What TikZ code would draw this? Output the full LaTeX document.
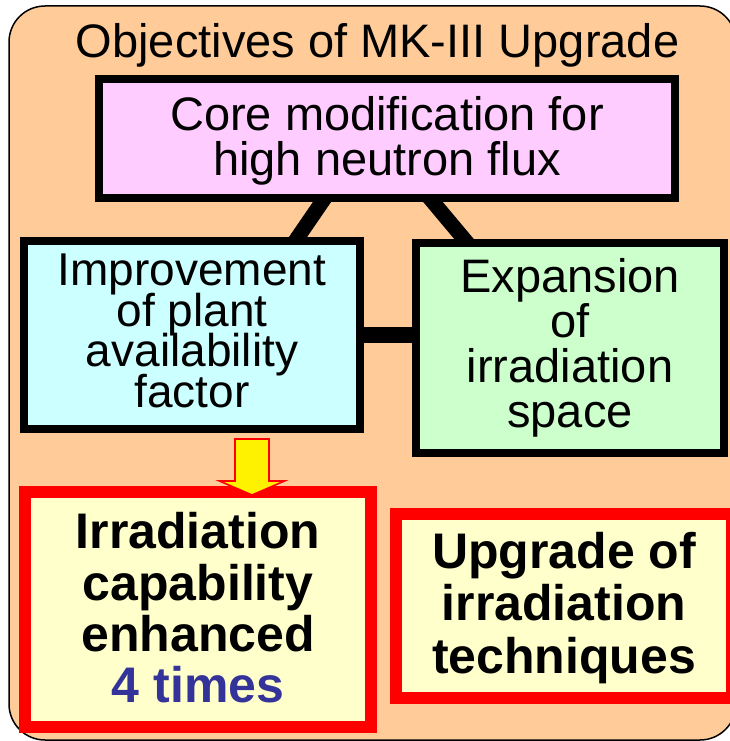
\documentclass[tikz,border=0pt]{standalone}
\usepackage{fontspec}
\setmainfont{Liberation Sans}
\pgfdeclarelayer{back}
\pgfdeclarelayer{background}
\pgfsetlayers{back,background,main}
\definecolor{peach}{HTML}{FFCC99}
\definecolor{corepink}{HTML}{FFCCFF}
\definecolor{palecyan}{HTML}{CCFFFF}
\definecolor{palegreen}{HTML}{CCFFCC}
\definecolor{paleyellow}{HTML}{FFFFCC}
\definecolor{timesblue}{HTML}{333399}
\newcommand\tightlns{\lineskiplimit=-100pt\relax\lineskip=0pt\relax}
\begin{document}
\begin{tikzpicture}[x=1pt,y=-1pt,
  objbox/.style={draw=black, line width=8pt, inner sep=0pt},
  goalbox/.style={draw=red, fill=paleyellow, line width=12pt, inner sep=0pt},
  objtext/.style={inner sep=0pt, align=center},
  goaltext/.style={inner sep=0pt, align=center},
  link/.style={draw=black, line width=15pt, shorten <=-12pt, shorten >=-12pt}]
\useasboundingbox (0,0) rectangle (729,741);

% frame
\begin{pgfonlayer}{back}
\draw[fill=peach, draw=black, line width=1.5pt, rounded corners=36pt] (9,6) rectangle (736,740);
\end{pgfonlayer}

\node[anchor=base, inner sep=0pt, font=\fontsize{47}{47}\selectfont] (title) at (377.5,58) {Objectives of MK-III Upgrade};

% objective boxes
\node[objbox, fill=corepink, minimum width=576pt, minimum height=119pt] (core) at (387,138.5) {};
\node[objbox, fill=palecyan, minimum width=336pt, minimum height=188pt] (left) at (192,335) {};
\node[objbox, fill=palegreen, minimum width=308pt, minimum height=210pt] (right) at (570,348) {};

\node[objtext, font=\fontsize{47}{45}\selectfont\tightlns] (coretext) at ([yshift=-2pt]core.center) {Core modification for\\high neutron flux};
\node[objtext, font=\fontsize{46}{40.5}\selectfont\tightlns] (lefttext) at ([yshift=4pt]left.center) {Improvement\\of plant\\availability\\factor};
\node[objtext, font=\fontsize{47}{45}\selectfont\tightlns] (righttext) at ([yshift=0pt]right.center) {Expansion\\of\\irradiation\\space};

% connectors
\begin{pgfonlayer}{background}
\draw[link] ([xshift=227pt]core.south west) -- ([xshift=278pt]left.north west);
\draw[link] ([xshift=338pt]core.south west) -- ([xshift=52pt]right.north west);
\draw[link, line width=16pt] (left.east) -- (left.east -| right.west);
\end{pgfonlayer}

% goal boxes
\node[goalbox, minimum width=346pt, minimum height=235pt] (goalA) at (198,609.5) {};
\node[goalbox, minimum width=336pt, minimum height=184pt] (goalB) at (564,606) {};
\node[goaltext, font=\fontsize{50}{51.3}\selectfont\bfseries\tightlns] (goalAtext) at ([yshift=1.5pt]goalA.center) {Irradiation\\capability\\enhanced\\{\color{timesblue}4 times}};
\node[goaltext, font=\fontsize{50}{52.5}\selectfont\bfseries\tightlns] (goalBtext) at ([yshift=-2pt]goalB.center) {Upgrade of\\irradiation\\techniques};

% yellow arrow
\coordinate (atop) at ([xshift=60pt,yshift=-6pt]left.south);
\draw[draw=red, fill=yellow, line width=1.6pt, line join=miter]
  (atop) ++(-17,0) -- ++(0,42) -- ++(-15.5,0) -- ++(32.5,14) -- ++(32.5,-14) -- ++(-15.5,0) -- ++(0,-42) -- cycle;
\end{tikzpicture}
\end{document}
